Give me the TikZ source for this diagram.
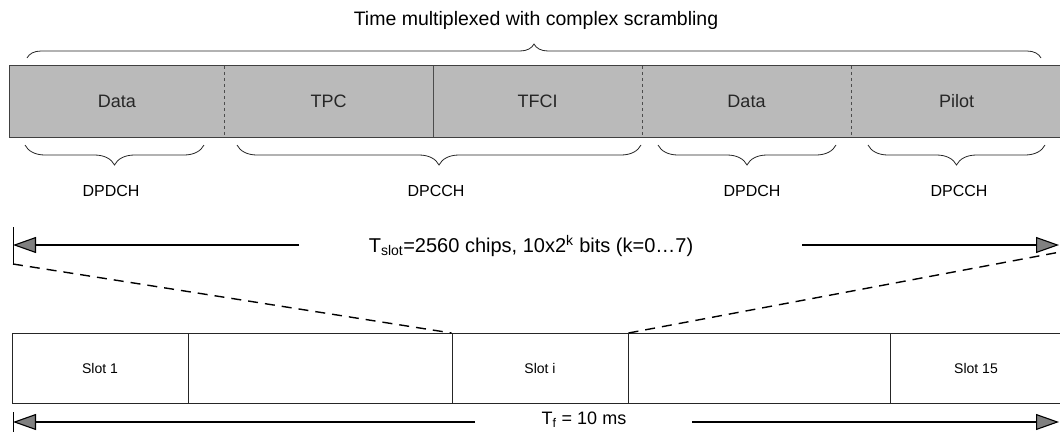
\documentclass[tikz,border=0pt]{standalone}
\usepackage{fontspec}
\setmainfont{Liberation Sans}
\usetikzlibrary{decorations.pathreplacing,arrows.meta}
\begin{document}
\begin{tikzpicture}[x=1pt,y=-1pt,
  field/.style={fill=black!27,inner sep=0pt,minimum height=71pt,font=\fontsize{18}{20}\selectfont,text=black!85},
  slotbox/.style={draw=black!85,line width=1pt,inner sep=0pt,minimum height=70pt,font=\fontsize{14}{16}\selectfont},
  brc/.style={decorate,line width=0.8pt,black!85},
  lbl/.style={font=\fontsize{16}{18}\selectfont},
  arr/.style={line width=1.1pt,-{Triangle[length=23pt,width=16pt,fill=black!50]}},
  dsh/.style={dash pattern=on 10pt off 7pt,line width=1.4pt},
  div/.style={black!70,line width=0.8pt}]
\useasboundingbox (0,0) rectangle (1060,432);
% top bar
\node[field,minimum width=214pt] (d1) at (117,101.5) {Data};
\node[field,minimum width=209pt] (tpc) at (328.5,101.5) {TPC};
\node[field,minimum width=209pt] (tfci) at (537.5,101.5) {TFCI};
\node[field,minimum width=209pt] (d2) at (746.5,101.5) {Data};
\node[field,minimum width=211pt] (pil) at (956.5,101.5) {Pilot};
\draw[black!75,line width=0.9pt] (d1.north west) rectangle (pil.south east);
\draw[div,dashed] (d1.north east) -- (d1.south east);
\draw[div] (tpc.north east) -- (tpc.south east);
\draw[div,dashed] (tfci.north east) -- (tfci.south east);
\draw[div,dashed] (d2.north east) -- (d2.south east);
% top brace
\coordinate (tbl) at (27,58);
\coordinate (tbr) at (1041,58);
\draw[brc,decoration={brace,amplitude=14pt}] (tbl) -- (tbr);
\node[font=\fontsize{19.5}{21}\selectfont] (tm) at (536,20) {Time multiplexed with complex scrambling};
% bottom braces
\coordinate (b1l) at (25,145); \coordinate (b1r) at (204,145);
\coordinate (b2l) at (237,145); \coordinate (b2r) at (641,145);
\coordinate (b3l) at (658,145); \coordinate (b3r) at (836,145);
\coordinate (b4l) at (868,145); \coordinate (b4r) at (1045,145);
\draw[brc,decoration={brace,mirror,amplitude=20pt}] (b1l) -- (b1r);
\draw[brc,decoration={brace,mirror,amplitude=20pt}] (b2l) -- (b2r);
\draw[brc,decoration={brace,mirror,amplitude=20pt}] (b3l) -- (b3r);
\draw[brc,decoration={brace,mirror,amplitude=20pt}] (b4l) -- (b4r);
\node[lbl] (c1) at (111,191) {DPDCH};
\node[lbl] (c2) at (436,191) {DPCCH};
\node[lbl] (c3) at (752,191) {DPDCH};
\node[lbl] (c4) at (959,191) {DPCCH};
% slot arrow
\node[font=\fontsize{20}{22}\selectfont] (ts) at (531,246) {T\textsubscript{slot}=2560 chips, 10x2\textsuperscript{k} bits (k=0\ldots7)};
\coordinate (tsl0) at (299,245); \coordinate (tsl) at (13,245);
\coordinate (tsr0) at (802,245); \coordinate (tsr) at (1059,245);
\draw[arr] (tsl0) -- (tsl);
\draw[arr] (tsr0) -- (tsr);
\coordinate (tk1) at (13,227); \coordinate (tk2) at (13,264); \coordinate (tk3) at (19,264);
\draw[line width=0.9pt] (tk1) -- (tk2) -- (tk3);
% bottom bar
\node[slotbox,minimum width=176pt] (s1) at (100,368.5) {Slot 1};
\node[slotbox,minimum width=264pt] (s2) at (320,368.5) {};
\node[slotbox,minimum width=176pt] (si) at (540,368.5) {Slot i};
\node[slotbox,minimum width=262pt] (s3) at (759,368.5) {};
\node[slotbox,minimum width=172pt] (s15) at (976,368.5) {Slot 15};
% dashed zoom lines
\coordinate (dr) at (1060,252);
\draw[dsh] (tk2) -- (si.north west);
\draw[dsh] (si.north east) -- (dr);
% frame arrow
\node[font=\fontsize{18}{20}\selectfont] (tf) at (584,420) {T\textsubscript{f} = 10 ms};
\coordinate (tfl0) at (475,422); \coordinate (tfl) at (13,422);
\coordinate (tfr0) at (692,422); \coordinate (tfr) at (1059,422);
\draw[arr] (tfl0) -- (tfl);
\draw[arr] (tfr0) -- (tfr);
\coordinate (fk1) at (13,412); \coordinate (fk2) at (13,432);
\draw[line width=0.9pt] (fk1) -- (fk2);
\end{tikzpicture}
\end{document}
